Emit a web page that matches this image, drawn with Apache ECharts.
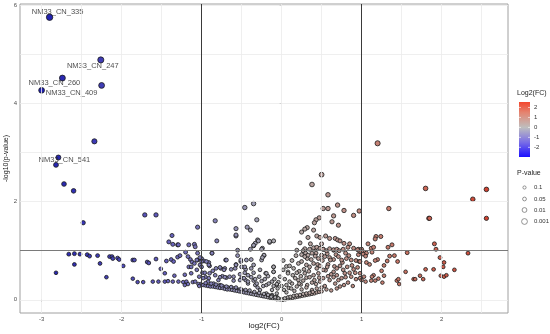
<!DOCTYPE html>
<html>
<head>
<meta charset="utf-8">
<script src="https://cdn.jsdelivr.net/npm/echarts@6/dist/echarts.min.js"></script>
<style>html,body{margin:0;padding:0;background:#fff}#c{width:550px;height:334px}</style>
</head>
<body>
<div id="c"></div>
<script>
// ---- data: [log2(FC), -log10(p-value)] ----
const blueTop = [[-2.90,5.76],[-2.26,4.89],[-2.74,4.52],[-2.25,4.37],[-3.00,4.27],[-2.34,3.23],[-2.79,2.90],[-2.82,2.75],[-2.72,2.36],[-2.60,2.22],[-2.48,1.57],[-1.71,1.73],[-1.57,1.73],[-2.82,0.55]];
const leftLow = [[-2.66,0.93],[-2.59,0.94],[-2.52,0.93],[-2.43,0.92],[-2.40,0.89],[-2.30,0.90],[-2.59,0.72],[-2.27,0.74],[-2.19,0.46],[-2.15,0.88],[-2.12,0.88],[-2.11,0.84],[-2.05,0.85],[-2.03,0.82],[-1.98,0.69],[-1.86,0.81],[-1.84,0.81],[-1.86,0.43],[-1.80,0.36],[-1.73,0.36],[-1.68,0.77],[-1.66,0.75]];
const leftMid = [[-1.05,1.48],[-0.83,1.61],[-1.37,1.31],[-1.41,1.18],[-1.36,1.13],[-1.30,1.12],[-1.29,1.12],[-1.16,1.12],[-1.09,1.13],[-1.08,1.08],[-0.81,1.20],[-1.20,0.97],[-1.05,0.95],[-0.87,0.95],[-1.57,0.83],[-1.44,0.79],[-1.38,0.82],[-1.35,0.78],[-1.30,0.87],[-1.27,0.90],[-1.17,0.88],[-1.14,0.82],[-1.12,0.77],[-1.09,0.74],[-1.05,0.81],[-1.02,0.71],[-1.00,0.84],[-0.97,0.79],[-0.91,0.76],[-0.90,0.69],[-0.86,0.59],[-0.82,0.64],[-0.76,0.64],[-0.71,0.64],[-0.70,0.81],[-1.51,0.63],[-1.46,0.54],[-1.34,0.49],[-1.21,0.51],[-1.16,0.67],[-1.13,0.54],[-1.06,0.61],[-1.03,0.47],[-0.99,0.55],[-0.95,0.46],[-0.91,0.44],[-0.79,0.40],[-0.77,0.30],[-0.74,0.48],[-0.69,0.45],[-1.61,0.37],[-1.54,0.37],[-1.46,0.37],[-1.42,0.38],[-1.36,0.37],[-1.29,0.37],[-1.23,0.36],[-1.19,0.37],[-1.11,0.36],[-1.08,0.37],[-1.01,0.32]];
const nearZeroLeft = [[-0.57,1.30],[-0.35,1.10],[-0.33,1.15],[-0.24,1.05],[-0.15,1.17],[-0.30,1.22],[-0.55,0.90],[-0.51,0.78],[-0.38,0.82],[-0.25,0.81],[-0.22,0.90],[-0.57,0.72],[-0.50,0.67],[-0.45,0.62],[-0.46,0.55],[-0.35,0.55],[-0.52,0.52],[-0.50,0.44],[-0.60,0.47],[-0.20,0.54],[-0.17,0.48],[-0.21,0.42],[-0.12,0.37],[-0.06,0.30],[0.08,0.57],[-0.45,0.40],[-0.42,0.33],[-0.33,0.30],[-0.30,0.25],[-0.27,0.20],[-0.19,0.13],[-0.12,0.10],[-0.06,0.06],[-0.63,0.25],[-0.56,0.22],[-0.48,0.18],[-0.40,0.14],[-0.31,0.11],[-0.23,0.08],[-0.15,0.05],[-0.06,0.01],[0.00,0.00]];
const midLeft = [[-0.46,1.88],[-0.35,1.96],[-0.43,1.48],[-0.39,1.42],[-0.31,1.63],[-0.57,1.45],[-0.57,1.32],[-0.29,1.20],[-0.15,1.19],[-0.55,1.01],[-0.39,1.03],[-0.35,1.11],[-0.25,1.03],[-0.22,0.91],[-0.24,0.86],[-0.87,0.95],[-0.94,0.78],[-0.91,0.71],[-1.02,0.86],[-1.00,0.78],[-1.00,0.67],[-1.06,0.81],[-1.13,0.67],[-0.77,0.66],[-0.72,0.61],[-0.69,0.81],[-0.63,0.62],[-0.58,0.64],[-0.57,0.71],[-0.51,0.81],[-0.46,0.67],[-0.44,0.81],[-0.38,0.64],[-0.35,0.71],[-0.27,0.61],[-0.19,0.54],[-0.10,0.67],[-0.10,0.57],[-0.96,0.55],[-0.90,0.54],[-0.83,0.50],[-0.77,0.46],[-0.71,0.46],[-0.65,0.47],[-0.60,0.39],[-0.52,0.40],[-0.47,0.44],[-0.42,0.37],[-0.35,0.39],[-0.31,0.33],[-0.23,0.28],[-0.19,0.30],[-0.12,0.20],[-0.06,0.13],[-0.98,0.44],[-0.92,0.37],[-0.85,0.33],[-0.79,0.28],[-0.73,0.27],[-0.67,0.25],[-0.60,0.23],[-0.54,0.20],[-0.49,0.19],[-0.42,0.16],[-0.35,0.14],[-0.28,0.12],[-0.21,0.10],[-0.15,0.08],[-0.08,0.05],[-1.04,0.32],[-1.03,0.28],[-1.17,0.32],[-1.21,0.30]];
const bottomBand = [[-0.98,0.30],[-0.95,0.29],[-0.92,0.28],[-0.89,0.27],[-0.86,0.27],[-0.83,0.26],[-0.80,0.25],[-0.77,0.24],[-0.74,0.24],[-0.71,0.22],[-0.68,0.21],[-0.65,0.21],[-0.62,0.20],[-0.59,0.19],[-0.56,0.18],[-0.53,0.17],[-0.50,0.16],[-0.47,0.15],[-0.44,0.14],[-0.41,0.13],[-0.38,0.12],[-0.35,0.11],[-0.32,0.10],[-0.29,0.09],[-0.26,0.08],[-0.23,0.07],[-0.20,0.06],[-0.17,0.05],[-0.14,0.04],[-0.11,0.03],[-0.08,0.02],[-0.05,0.02],[-0.03,0.01],[-0.95,0.34],[-0.88,0.33],[-0.82,0.31],[-0.75,0.29],[-0.69,0.27],[-0.63,0.26],[-0.57,0.25],[-0.51,0.22],[-0.45,0.20],[-0.40,0.19],[-0.34,0.16],[-0.28,0.14],[-0.22,0.12],[-0.17,0.10],[-0.12,0.08],[0.02,0.00],[0.05,0.01],[0.08,0.02],[0.11,0.03],[0.14,0.04],[0.17,0.05],[0.20,0.06],[0.23,0.07],[0.26,0.08],[0.29,0.09],[0.32,0.10],[0.35,0.11],[0.38,0.12],[0.41,0.13],[0.44,0.15],[0.47,0.16],[0.50,0.17]];
const centerExtra = [[-0.42,0.50],[-0.38,0.46],[-0.33,0.42],[-0.28,0.47],[-0.25,0.38],[-0.16,0.33],[-0.09,0.42],[-0.04,0.36],[0.03,0.20],[0.06,0.15],[0.09,0.24],[0.13,0.33],[0.16,0.18],[0.21,0.40],[0.24,0.31],[0.28,0.62],[0.31,0.45],[0.34,0.58],[0.37,0.82],[0.41,0.40],[0.45,0.72],[0.47,0.45],[0.51,0.80],[0.55,0.60],[0.58,0.72],[0.62,0.52],[0.66,0.68],[0.71,0.40],[0.76,0.76],[0.80,0.46],[0.84,0.90],[0.88,0.70],[0.92,0.55],[0.96,0.92],[0.13,0.80],[0.18,0.90],[0.22,0.58],[0.06,0.68],[0.02,0.80],[0.32,0.84],[0.43,0.95],[0.57,0.94],[0.68,0.92],[0.80,0.95]];
const midRightUp = [[0.50,2.55],[0.38,2.35],[0.58,2.14],[0.70,1.93],[0.52,1.86],[0.58,1.86],[0.78,1.82],[0.90,1.72],[0.97,1.81],[0.65,1.71],[0.47,1.67],[0.43,1.63],[0.41,1.57],[0.63,1.59],[0.71,1.52],[0.32,1.47],[0.40,1.42],[0.29,1.44],[0.25,1.38],[-0.10,1.20],[0.33,1.27],[0.44,1.30],[0.48,1.27],[0.55,1.30],[0.60,1.25],[0.67,1.25],[0.70,1.22],[0.73,1.20],[0.78,1.15],[0.85,1.14],[0.23,1.16],[0.36,1.14],[0.50,1.14],[0.96,1.03],[0.19,1.01],[0.29,1.04],[0.42,1.05],[0.52,1.03],[0.65,1.01]];
const midRightLow = [[0.27,1.00],[0.30,0.95],[0.35,1.03],[0.40,1.06],[0.44,1.07],[0.48,1.05],[0.52,1.03],[0.56,1.00],[0.60,1.04],[0.65,1.02],[0.69,1.03],[0.72,1.00],[0.77,1.03],[0.83,1.07],[0.90,1.05],[0.95,1.02],[0.98,0.98],[1.00,1.03],[1.03,0.97],[1.06,0.95],[0.25,0.92],[0.29,0.88],[0.33,0.91],[0.38,0.95],[0.42,0.89],[0.46,0.84],[0.50,0.91],[0.54,0.88],[0.60,0.86],[0.65,0.82],[0.71,0.88],[0.75,0.81],[0.81,0.84],[0.87,0.81],[0.93,0.80],[0.97,0.78],[0.10,0.69],[0.15,0.64],[0.21,0.74],[0.25,0.78],[0.31,0.71],[0.35,0.67],[0.40,0.74],[0.44,0.64],[0.48,0.69],[0.52,0.61],[0.57,0.67],[0.61,0.81],[0.65,0.57],[0.69,0.64],[0.73,0.69],[0.77,0.61],[0.82,0.67],[0.85,0.55],[0.90,0.62],[0.95,0.66],[0.98,0.54],[-0.10,0.67],[-0.10,0.57],[0.02,0.61],[0.08,0.54],[0.14,0.50],[0.19,0.55],[0.24,0.48],[0.29,0.54],[0.35,0.46],[0.40,0.50],[0.46,0.54],[0.52,0.44],[0.58,0.48],[0.65,0.46],[0.69,0.50],[0.75,0.44],[0.79,0.54],[0.87,0.47],[0.93,0.42],[0.98,0.44],[-0.02,0.47],[0.04,0.42],[0.10,0.37],[0.17,0.44],[0.22,0.33],[0.27,0.39],[0.32,0.30],[0.38,0.35],[0.43,0.32],[0.48,0.37],[0.54,0.28],[0.60,0.40],[0.67,0.33],[0.73,0.27],[0.78,0.30],[0.83,0.35],[0.89,0.28],[-0.06,0.32],[0.00,0.28],[0.06,0.30],[0.12,0.23],[0.19,0.27],[0.25,0.21],[0.31,0.25],[0.38,0.20],[0.44,0.23],[0.50,0.25],[0.56,0.21],[0.62,0.19],[0.69,0.23],[-0.10,0.28],[-0.05,0.23],[-0.13,0.06],[-0.08,0.05],[-0.04,0.03],[0.00,0.01],[0.04,0.03],[0.08,0.05],[0.11,0.06],[0.15,0.08],[0.19,0.09],[0.23,0.10],[0.27,0.12],[0.31,0.13],[0.35,0.14],[0.39,0.16]];
const rightGroup = [[1.20,3.19],[1.80,2.27],[2.56,2.25],[2.39,2.05],[1.34,1.86],[1.84,1.66],[1.85,1.66],[2.56,1.66],[1.18,1.29],[1.17,1.24],[1.24,1.29],[1.08,1.14],[1.33,1.07],[1.38,1.12],[1.12,1.05],[1.15,1.07],[1.13,0.97],[1.91,1.14],[1.93,1.03],[1.57,0.96],[2.33,0.95],[1.00,0.98],[1.02,0.93],[1.05,0.89],[0.98,0.78],[1.06,0.76],[1.10,0.72],[1.20,0.82],[1.17,0.80],[1.35,0.89],[1.41,0.90],[1.45,0.78],[1.32,0.79],[1.28,0.70],[1.25,0.59],[1.28,0.49],[1.15,0.50],[1.13,0.47],[1.03,0.47],[1.05,0.37],[1.00,0.40],[1.12,0.39],[1.17,0.39],[1.21,0.43],[1.26,0.35],[1.44,0.39],[1.46,0.42],[1.47,0.32],[1.55,0.57],[1.65,0.42],[1.67,0.42],[1.73,0.49],[1.77,0.42],[1.80,0.62],[1.90,0.62],[1.98,0.86],[2.03,0.76],[2.02,0.67],[1.99,0.49],[2.03,0.47],[2.06,0.50],[2.16,0.61]];

const labelNames = ['NM33_CN_335','NM33_CN_247','NM33_CN_260','NM33_CN_409','NM33_CN_541'];
const labelFC = [-2.90,-2.26,-2.74,-3.00,-2.79];
const labelP = [5.76,4.89,4.52,4.27,2.90];

const xTicks = [-3,-2,-1,0,1,2];
const yTicks = [0,2,4,6];
const xGrid = [-3,-2.5,-2,-1.5,-1,-0.5,0,0.5,1,1.5,2,2.5];
const yGrid = [0,1,2,3,4,5,6];
const fcCut = [-1,1];
const pCut = [1];
const colorTicks = [2,1,0,-1,-2];
const pLegend = ['0.1','0.05','0.01','0.001'];

// ---- styles ----
const FONT = 'Liberation Sans, Arial, sans-serif';
const labelOffsets = [[8,-5],[-8,6],[-8,5],[30,3],[6,2]];
const pointColors = ['#2020b0','#625cbc','#b2b2b2','#c87464','#d0301e'];

const points = [].concat(blueTop, leftLow, leftMid, nearZeroLeft, midLeft, bottomBand, centerExtra, midRightUp, midRightLow, rightGroup);

const chart = echarts.init(document.getElementById('c'), null, {renderer:'canvas'});

const gridLines = xGrid.map(v => ({xAxis: v})).concat(yGrid.map(v => ({yAxis: v})));
const cutLines = fcCut.map(v => ({xAxis: v, lineStyle:{color:'#3a3a3a', width:1}}))
  .concat(pCut.map(v => ({yAxis: v, lineStyle:{color:'#7a7a7a', width:1.2}})));

// colorbar legend
const cbX = 519, cbY = 102, cbW = 11, cbH = 55, cbMax = 2.55, cbMin = -2.97;
const cbPos = v => cbY + (cbMax - v) / (cbMax - cbMin) * cbH;
const graphics = [
  {type:'text', left: 517, top: 90, style:{text:'Log2(FC)', font:'7px '+FONT, fill:'#222'}},
  {type:'rect', shape:{x:cbX, y:cbY, width:cbW, height:cbH}, style:{fill: new echarts.graphic.LinearGradient(0,0,0,1,[
    {offset:0, color:'#f3472e'},{offset:0.193, color:'#e48470'},{offset:0.462, color:'#bebebe'},{offset:0.731, color:'#7a6ee6'},{offset:1, color:'#1a10ff'}])}}
];
colorTicks.forEach(v => {
  const y = cbPos(v);
  graphics.push({type:'line', shape:{x1:cbX, y1:y, x2:cbX+2, y2:y}, style:{stroke:'#fff', lineWidth:0.6}});
  graphics.push({type:'line', shape:{x1:cbX+cbW-2, y1:y, x2:cbX+cbW, y2:y}, style:{stroke:'#fff', lineWidth:0.6}});
  graphics.push({type:'text', x: 534, y: y, style:{text:String(v), font:'6px '+FONT, fill:'#333', verticalAlign:'middle'}});
});
graphics.push({type:'text', left: 517, top: 170, style:{text:'P-value', font:'7px '+FONT, fill:'#222'}});
const pY = [187.5, 199, 210, 221.5], pR = [1.6, 1.9, 2.4, 2.9];
pLegend.forEach((t, i) => {
  graphics.push({type:'circle', shape:{cx:524.5, cy:pY[i], r:pR[i]}, style:{fill:'#fff', stroke:'#777', lineWidth:0.8}});
  graphics.push({type:'text', x: 534, y: pY[i], style:{text:t, font:'6px '+FONT, fill:'#333', verticalAlign:'middle'}});
});

chart.setOption({
  animation: false,
  backgroundColor: '#fff',
  textStyle: {fontFamily: FONT},
  grid: {left: 20, right: 42, top: 4, bottom: 21, show: true, containLabel: false, outerBoundsMode: 'none',
    borderColor: '#a0a0a0', borderWidth: 1, backgroundColor: '#fff'},
  xAxis: {
    type: 'value', min: -3.27, max: 2.83,
    name: 'log2(FC)', nameLocation: 'middle', nameGap: 9, nameMoveOverlap: false,
    nameTextStyle: {fontSize: 8, color: '#1a1a1a', fontFamily: FONT},
    axisLine: {show: false}, splitLine: {show: false},
    axisTick: {show: true, length: 2, lineStyle: {color: '#444', width: 0.8}, customValues: xTicks},
    axisLabel: {fontSize: 6, color: '#4d4d4d', margin: 3, customValues: xTicks, fontFamily: FONT}
  },
  yAxis: {
    type: 'value', min: -0.27, max: 6.03,
    name: '-log10(p-value)', nameLocation: 'middle', nameGap: 10, nameMoveOverlap: false,
    nameTextStyle: {fontSize: 7, color: '#1a1a1a', fontFamily: FONT},
    axisLine: {show: false}, splitLine: {show: false},
    axisTick: {show: true, length: 2, lineStyle: {color: '#444', width: 0.8}, customValues: yTicks},
    axisLabel: {fontSize: 6, color: '#4d4d4d', margin: 3, customValues: yTicks, fontFamily: FONT}
  },
  visualMap: {
    type: 'continuous', show: false, dimension: 0, seriesIndex: 2,
    min: -2.97, max: 2.97, inRange: {color: pointColors}
  },
  series: [
    {
      type: 'scatter', data: [], silent: true, z: 1,
      markLine: {silent: true, symbol: ['none','none'], label: {show: false}, animation: false,
        lineStyle: {color: '#ebebeb', width: 0.8, type: 'solid'}, data: gridLines}
    },
    {
      type: 'scatter', data: [], silent: true, z: 2,
      markLine: {silent: true, symbol: ['none','none'], label: {show: false}, animation: false,
        lineStyle: {type: 'solid'}, data: cutLines}
    },
    {
      type: 'scatter', z: 3,
      data: points,
      symbolSize: v => 3.4 + 0.55 * Math.min(v[1], 5.5),
      itemStyle: {borderColor: '#1a1a1a', borderWidth: 0.8, opacity: 1}
    },
    {
      type: 'scatter', z: 4, silent: true,
      data: labelNames.map((n, i) => ({name: n, value: [labelFC[i], labelP[i]],
        label: {offset: labelOffsets[i]}})),
      symbolSize: 1,
      itemStyle: {color: 'rgba(0,0,0,0)'},
      label: {show: true, position: 'inside', formatter: '{b}', fontSize: 7.5, color: '#222',
        fontFamily: FONT, align: 'center', verticalAlign: 'middle'}
    }
  ],
  graphic: graphics
});
</script>
</body>
</html>
